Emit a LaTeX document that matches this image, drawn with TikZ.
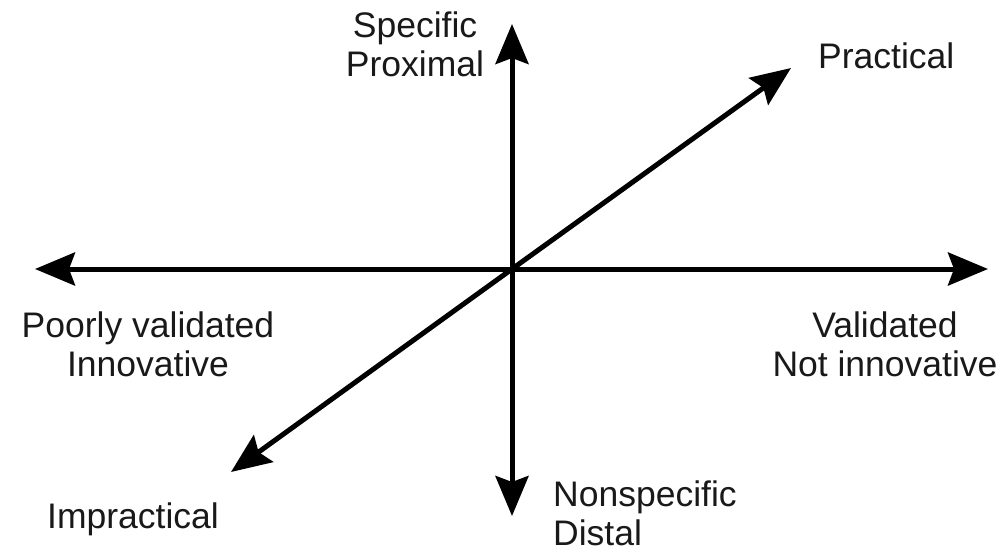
\documentclass[tikz,border=0pt]{standalone}
\usepackage{fontspec}
\setmainfont{Liberation Sans}
\usetikzlibrary{arrows.meta}
\begin{document}
\begin{tikzpicture}[x=1pt,y=-1pt,
  axis/.style={line width=5pt,-{Stealth[length=40pt,width=33pt,inset=6pt]}},
  lbl/.style={inner sep=0pt,font=\fontsize{35.5}{38.5}\selectfont,text=black!90}]
\useasboundingbox (0,0) rectangle (1008,552);
\coordinate (c) at (512,269);
\coordinate (left) at (35,269);
\coordinate (right) at (988,269);
\coordinate (top) at (512,24);
\coordinate (bottom) at (512,516);
\coordinate (ne) at (791,68);
\coordinate (sw) at (231,472);
\draw[axis] (c) -- (left);
\draw[axis] (c) -- (right);
\draw[axis] (c) -- (top);
\draw[axis] (c) -- (bottom);
\draw[axis] (c) -- (ne);
\draw[axis] (c) -- (sw);
\node[lbl,anchor=north,align=center] (spec) at (415,12) {Specific\\Proximal};
\node[lbl,anchor=base west] (prac) at (818,68) {Practical};
\node[lbl,anchor=north,align=center] (poor) at (148,312) {Poorly validated\\Innovative};
\node[lbl,anchor=north,align=center] (valid) at (885,312) {Validated\\Not innovative};
\node[lbl,anchor=north west,align=left] (nonspec) at (553,481) {Nonspecific\\Distal};
\node[lbl,anchor=base west] (impr) at (47,528) {Impractical};
\end{tikzpicture}
\end{document}
